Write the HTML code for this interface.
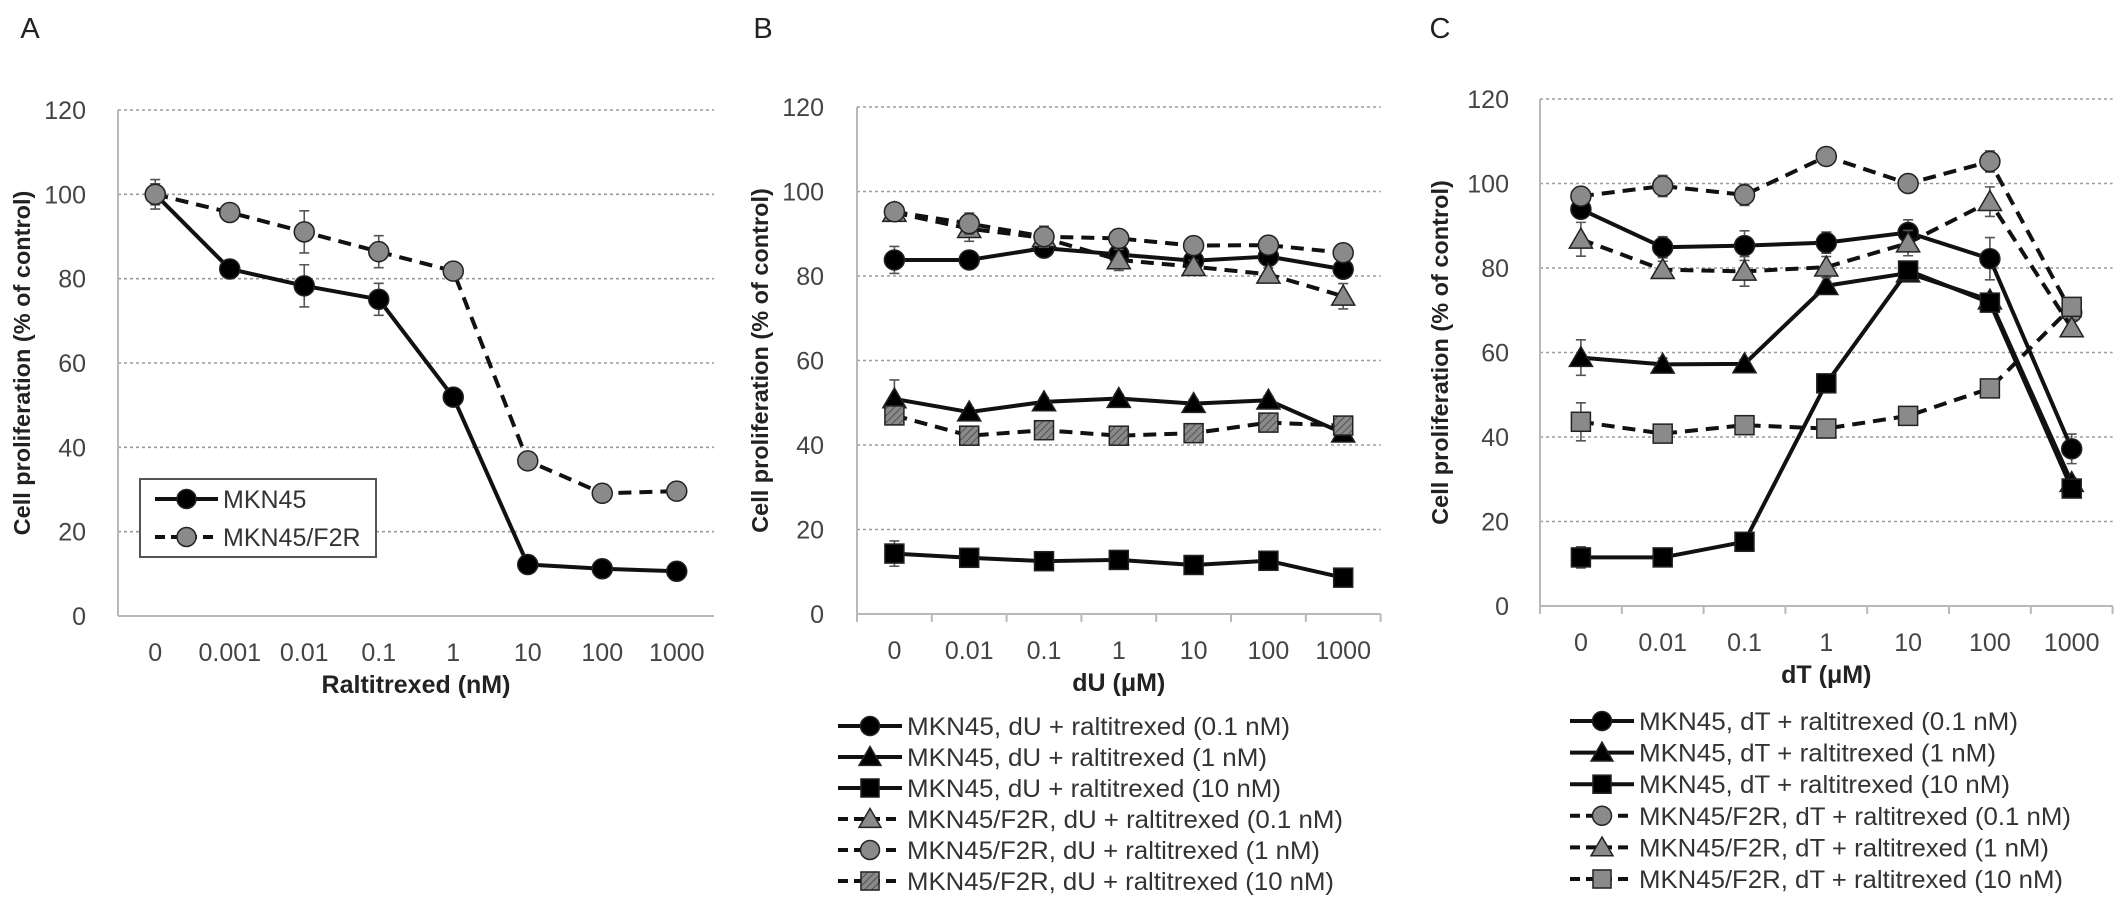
<!DOCTYPE html>
<html><head><meta charset="utf-8"><style>
html,body{margin:0;padding:0;background:#fff;}
svg{display:block;font-family:"Liberation Sans",Arial,sans-serif;}
</style></head><body>
<svg id="fig" width="2126" height="909" viewBox="0 0 2126 909" xmlns="http://www.w3.org/2000/svg">
<defs>
<pattern id="hatch" width="5" height="5" patternUnits="userSpaceOnUse" patternTransform="rotate(45)">
<rect width="5" height="5" fill="#8a8a8a"/><line x1="0" y1="0" x2="0" y2="5" stroke="#444" stroke-width="1.6"/>
</pattern>
</defs>
<g id="root"></g>
</svg>
<script>
// ---------- Panel A data ----------
const catsA = ["0","0.001","0.01","0.1","1","10","100","1000"];
const aMKN45 = [100, 82.3, 78.3, 75.1, 51.9, 12.2, 11.2, 10.6];
const aMKN45Err = [2.5, 1.5, 5, 3.8, 0.8, 0.6, 0.5, 0.5];
const aF2R = [100, 95.7, 91.1, 86.4, 81.8, 36.8, 29.1, 29.6];
const aF2RErr = [3.5, 2, 5, 3.8, 1, 1, 0.8, 0.8];
// ---------- Panel B data ----------
const catsB = ["0","0.01","0.1","1","10","100","1000"];
const bM01 = [83.8, 83.8, 86.6, 85.1, 83.6, 84.6, 81.6];
const bM01Err = [3.2, 1.5, 1.5, 1.5, 1.2, 1.2, 1.2];
const bM1 = [50.9, 47.8, 50.2, 51.0, 49.8, 50.6, 42.8];
const bM1Err = [4.5, 1, 1, 1, 1, 1, 1];
const bM10 = [14.3, 13.3, 12.5, 12.8, 11.6, 12.6, 8.6];
const bM10Err = [3, 1, 1, 1, 1, 1, 1];
const bF01 = [95.0, 91.2, 89.0, 83.8, 82.2, 80.4, 75.2];
const bF01Err = [1.5, 3, 2, 2.5, 1.5, 1.5, 3];
const bF1 = [95.2, 92.4, 89.3, 88.9, 87.2, 87.3, 85.5];
const bF1Err = [1, 2.5, 2.5, 1.5, 1, 1, 1];
const bF10 = [47.0, 42.2, 43.5, 42.2, 42.8, 45.3, 44.6];
const bF10Err = [1.5, 1.5, 1.5, 1.5, 1.5, 1.5, 1.5];
// ---------- Panel C data ----------
const catsC = ["0","0.01","0.1","1","10","100","1000"];
const cM01 = [93.9, 84.9, 85.3, 86.0, 88.4, 82.2, 37.2];
const cM01Err = [1.5, 2.5, 3.5, 2.5, 3, 5, 3.5];
const cM1 = [58.8, 57.2, 57.3, 75.8, 78.8, 72.4, 29.2];
const cM1Err = [4.2, 1.5, 1, 1, 1, 1, 1];
const cM10 = [11.5, 11.5, 15.2, 52.7, 79.4, 71.8, 27.8];
const cM10Err = [2.5, 1, 1, 1, 1, 1, 1];
const cF01 = [97.0, 99.4, 97.3, 106.4, 100.0, 105.2, 69.5];
const cF01Err = [2, 2.5, 2.5, 1.2, 1, 2.5, 1];
const cF1 = [86.8, 79.6, 79.2, 80.2, 85.9, 95.7, 65.8];
const cF1Err = [4, 2, 3.5, 2.5, 3, 3.5, 2];
const cF10 = [43.6, 40.8, 42.8, 42.0, 45.0, 51.5, 70.8];
const cF10Err = [4.5, 1, 1, 1, 1, 1, 1];
const yTicks = [0, 20, 40, 60, 80, 100, 120];

const NS = "http://www.w3.org/2000/svg";
const root = document.getElementById("root");
function mk(tag, attrs, parent) {
  const e = document.createElementNS(NS, tag);
  for (const k in attrs) e.setAttribute(k, attrs[k]);
  (parent || root).appendChild(e);
  return e;
}
function txt(s, attrs, parent) { const t = mk("text", attrs, parent); t.textContent = s; return t; }

function marker(g, shape, fill, cx, cy, s) {
  let m;
  if (shape === "circle") m = mk("circle", {cx: cx, cy: cy, r: 10*s, fill: fill, stroke: "#222", "stroke-width": 1.5}, g);
  else if (shape === "tri") { const h = 11*s; m = mk("polygon", {points: `${cx},${cy-h} ${cx-h*1.05},${cy+h*0.8} ${cx+h*1.05},${cy+h*0.8}`, fill: fill, stroke: "#222", "stroke-width": 1.5}, g); }
  else { const h = 9.5*s; m = mk("rect", {x: cx-h, y: cy-h, width: 2*h, height: 2*h, fill: fill, stroke: "#222", "stroke-width": 1.5}, g); }
  
  
  return m;
}

function panel(p) {
  const g = mk("g", {});
  
  
  const n = p.cats.length;
  const xR = p.x0 + n * p.cw;
  const yS = v => p.y0 - (v / 120) * (p.y0 - p.y120);
  const xS = i => p.x0 + (i + 0.5) * p.cw;
  const lab = txt(p.label, {x: p.lx, y: 38, "font-size": 29, fill: "#222", "text-anchor": "middle"}, g);
  
  
  // gridlines
  yTicks.forEach(v => {
    if (v > 0) {
      const l = mk("line", {x1: p.x0, x2: xR, y1: yS(v), y2: yS(v), stroke: "#9a9a9a", "stroke-width": 1.6, "stroke-dasharray": "3,3"}, g);
      
      
    }
    const t = txt(String(v), {x: p.tickR, y: yS(v) + 9, "font-size": 25, fill: "#444", "text-anchor": "end"}, g);
    
    
  });
  // axes
  const ya = mk("line", {x1: p.x0, x2: p.x0, y1: p.y120, y2: p.y0, stroke: "#b8b8b8", "stroke-width": 2}, g);
  
  
  const xa = mk("line", {x1: p.x0, x2: xR, y1: p.y0, y2: p.y0, stroke: "#b8b8b8", "stroke-width": 2}, g);
  
  
  if (p.ticks) for (let i = 0; i <= n; i++) {
    const tk = mk("line", {x1: p.x0 + i*p.cw, x2: p.x0 + i*p.cw, y1: p.y0, y2: p.y0 + 8, stroke: "#b8b8b8", "stroke-width": 2}, g);
    
    
  }
  p.cats.forEach((c, i) => {
    const t = txt(c, {x: xS(i), y: p.y0 + 45, "font-size": 25, fill: "#444", "text-anchor": "middle"}, g);
    
    
  });
  const xt = txt(p.xTitle, {x: (p.x0 + xR) / 2, y: p.y0 + 77, "font-size": 25, "font-weight": "bold", fill: "#222", "text-anchor": "middle"}, g);
  
  
  const yc = (p.y0 + p.y120) / 2;
  const yt = txt("Cell proliferation (% of control)", {x: p.ytx, y: yc, "font-size": 23.5, "font-weight": "bold", fill: "#222", "text-anchor": "middle", transform: `rotate(-90 ${p.ytx} ${yc})`, dy: 8}, g);
  
  
  // series
  p.series.forEach(s => {
    const sg = mk("g", {}, g);
    
    
    s.err.forEach((e, i) => {
      const x = xS(i), y1 = yS(s.vals[i] - e), y2 = yS(s.vals[i] + e);
      const eb = mk("path", {d: `M${x},${y1}V${y2}M${x-5},${y1}H${x+5}M${x-5},${y2}H${x+5}`, stroke: "#555", "stroke-width": 1.6, fill: "none"}, sg);
      
      
    });
    const pts = s.vals.map((v, i) => `${xS(i)},${yS(v)}`).join(" ");
    const pl = mk("polyline", {points: pts, fill: "none", stroke: "#111", "stroke-width": 4, "stroke-dasharray": s.dash ? "13,8" : "none", "stroke-linejoin": "round"}, sg);
    
    
    s.vals.forEach((v, i) => marker(sg, s.shape, s.fill, xS(i), yS(v), 1));
  });
  // legend
  if (p.legend) {
    const L = p.legend;
    const lg = mk("g", {}, g);
    
    
    if (L.box) {
      const b = mk("rect", {x: L.box[0], y: L.box[1], width: L.box[2], height: L.box[3], fill: "#fff", stroke: "#555", "stroke-width": 2}, lg);
      
      
    }
    p.series.forEach((s, i) => {
      const y = L.y + i * L.dy;
      const eg = mk("g", {}, lg);
      
      
      mk("line", {x1: L.x1, x2: L.x2, y1: y, y2: y, stroke: "#111", "stroke-width": 4, "stroke-dasharray": s.dash ? "10,6" : "none"}, eg);
      marker(eg, s.shape, s.fill, (L.x1 + L.x2) / 2, y, 0.95);
      const t = txt(s.label, {x: L.tx, y: y + 9, "font-size": L.fs, fill: "#333"}, eg);
      if (s.tl) { t.setAttribute("textLength", s.tl); t.setAttribute("lengthAdjust", "spacingAndGlyphs"); }
    });
  }
}

panel({name: "panel-a", label: "A", lx: 30, x0: 118, cw: 74.5, y0: 616, y120: 110, tickR: 86, ytx: 22,
  cats: catsA, xTitle: "Raltitrexed (nM)", ticks: false,
  series: [
    {name: "series-mkn45", label: "MKN45", vals: aMKN45, err: aMKN45Err, shape: "circle", fill: "#000", dash: false},
    {name: "series-mkn45-f2r", label: "MKN45/F2R", vals: aF2R, err: aF2RErr, shape: "circle", fill: "#8a8a8a", dash: true}
  ],
  legend: {box: [140, 479, 236, 78], x1: 155, x2: 218, tx: 223, y: 499, dy: 38, fs: 25}
});

panel({name: "panel-b", label: "B", lx: 763, x0: 857, cw: 74.8, y0: 614, y120: 107, tickR: 824, ytx: 760,
  cats: catsB, xTitle: "dU (\u03bcM)", ticks: true,
  series: [
    {name: "series-mkn45-du-0.1", label: "MKN45, dU + raltitrexed (0.1 nM)", tl: 383, vals: bM01, err: bM01Err, shape: "circle", fill: "#000", dash: false},
    {name: "series-mkn45-du-1", label: "MKN45, dU + raltitrexed (1 nM)", tl: 360, vals: bM1, err: bM1Err, shape: "tri", fill: "#000", dash: false},
    {name: "series-mkn45-du-10", label: "MKN45, dU + raltitrexed (10 nM)", tl: 374, vals: bM10, err: bM10Err, shape: "sq", fill: "#000", dash: false},
    {name: "series-f2r-du-0.1", label: "MKN45/F2R, dU + raltitrexed (0.1 nM)", tl: 436, vals: bF01, err: bF01Err, shape: "tri", fill: "#8a8a8a", dash: true},
    {name: "series-f2r-du-1", label: "MKN45/F2R, dU + raltitrexed (1 nM)", tl: 413, vals: bF1, err: bF1Err, shape: "circle", fill: "#8a8a8a", dash: true},
    {name: "series-f2r-du-10", label: "MKN45/F2R, dU + raltitrexed (10 nM)", tl: 427, vals: bF10, err: bF10Err, shape: "sq", fill: "url(#hatch)", dash: true}
  ],
  legend: {x1: 838, x2: 902, tx: 907, y: 726, dy: 31, fs: 25}
});

panel({name: "panel-c", label: "C", lx: 1440, x0: 1540, cw: 81.8, y0: 606, y120: 99, tickR: 1509, ytx: 1440,
  cats: catsC, xTitle: "dT (\u03bcM)", ticks: true,
  series: [
    {name: "series-mkn45-dt-0.1", label: "MKN45, dT + raltitrexed (0.1 nM)", tl: 379, vals: cM01, err: cM01Err, shape: "circle", fill: "#000", dash: false},
    {name: "series-mkn45-dt-1", label: "MKN45, dT + raltitrexed (1 nM)", tl: 357, vals: cM1, err: cM1Err, shape: "tri", fill: "#000", dash: false},
    {name: "series-mkn45-dt-10", label: "MKN45, dT + raltitrexed (10 nM)", tl: 371, vals: cM10, err: cM10Err, shape: "sq", fill: "#000", dash: false},
    {name: "series-f2r-dt-0.1", label: "MKN45/F2R, dT + raltitrexed (0.1 nM)", tl: 432, vals: cF01, err: cF01Err, shape: "circle", fill: "#8a8a8a", dash: true},
    {name: "series-f2r-dt-1", label: "MKN45/F2R, dT + raltitrexed (1 nM)", tl: 410, vals: cF1, err: cF1Err, shape: "tri", fill: "#8a8a8a", dash: true},
    {name: "series-f2r-dt-10", label: "MKN45/F2R, dT + raltitrexed (10 nM)", tl: 424, vals: cF10, err: cF10Err, shape: "sq", fill: "#8a8a8a", dash: true}
  ],
  legend: {x1: 1570, x2: 1634, tx: 1639, y: 721, dy: 31.6, fs: 25}
});
</script>
</body></html>
